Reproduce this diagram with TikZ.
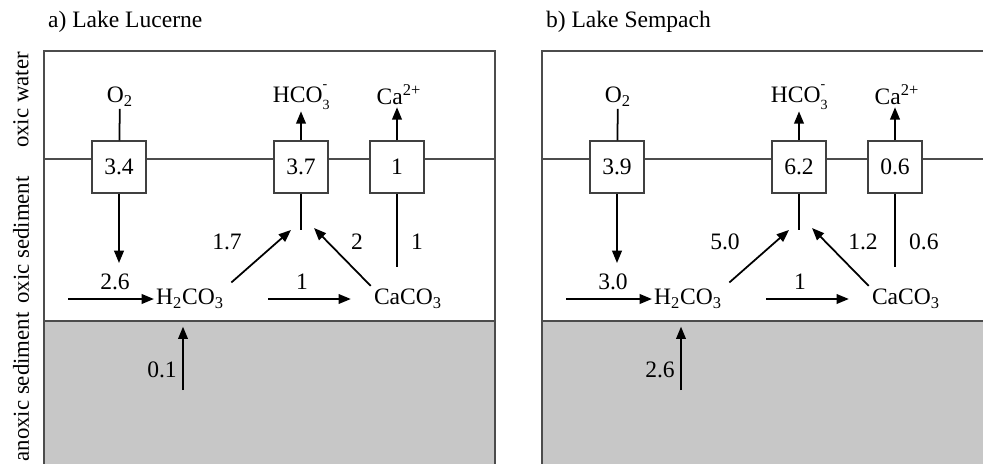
\documentclass[tikz,border=0pt]{standalone}
\usepackage{fontspec}
\setmainfont{Liberation Serif}
\usetikzlibrary{arrows.meta,positioning,calc}

\begin{document}
\begin{tikzpicture}[
  x=0.02cm, y=-0.02cm,
  every node/.style={font=\fontsize{13.4}{15}\selectfont, inner sep=1pt},
  zone/.style={rotate=90, font=\fontsize{13}{15}\selectfont},
  layer/.style={draw=black!70, line width=0.6pt},
  fluxbox/.style={draw=black!75, fill=white, line width=0.6pt,
                  minimum width=1.08cm, minimum height=1.04cm},
  flux/.style={line width=1pt},
  arr/.style={flux, -{Triangle[length=7pt, width=5.5pt]}}
]
  \clip (0,0) rectangle (983,463);

  % zone labels
  \node[zone] (zw) at (21,100) {oxic water};
  \node[zone] (zs) at (21,240) {oxic sediment};
  \node[zone] (za) at (21,387) {anoxic sediment};

  \foreach \dx/\pfx/\lake/\vo/\vh/\vc/\vin/\vl/\vr/\vrx/\vca/\vup in {
      0/lu/{a) Lake Lucerne}/3.4/3.7/1/2.6/1.7/2/357/1/0.1,
      498/se/{b) Lake Sempach}/3.9/6.2/0.6/3.0/5.0/1.2/365/0.6/2.6}
  {
  \begin{scope}[xshift=\dx*0.02cm, name prefix=\pfx-]
    % layers
    \fill[black!22] (44,321) rectangle (495,480);
    \draw[layer] (44,51) rectangle (495,480);
    \draw[layer] (44,159) -- (495,159);
    \draw[layer] (44,321) -- (495,321);
    \node[anchor=west] (title) at (46,22) {\lake};

    % fluxes across the interface
    \node[fluxbox] (bo) at (119,167) {\vo};
    \node[fluxbox] (bh) at (301,167) {\vh};
    \node[fluxbox] (bc) at (397,167) {\vc};
    \node (o2)  at (120,97) {O\textsubscript{2}};
    \node (hco) at (300,97) {HCO\rlap{\raisebox{-0.6ex}{\footnotesize 3}}\raisebox{1.3ex}{\footnotesize -}\hspace{2pt}};
    \node (ca)  at (399,95) {Ca\textsuperscript{2+}};

    % species in the oxic sediment
    \node (h2) at (190,299) {H\textsubscript{2}CO\textsubscript{3}};
    \node (cc) at (408,299) {CaCO\textsubscript{3}};

    \coordinate (od)  at (119,263);
    \coordinate (mid) at (301,230);
    \coordinate (cb)  at (397,267);
    \coordinate (tl)  at (291,230);
    \coordinate (tr)  at (314,228);
    \coordinate (src) at (68,299);
    \coordinate (lo)  at (183,390);

    \draw[flux] (o2) -- (bo);
    \draw[arr]  (bo) -- (od);
    \draw[arr]  (bh) -- (bh |- hco.south);
    \draw[arr]  (bc) -- (bc |- ca.south);
    \draw[flux] (bh) -- (mid);
    \draw[flux] (bc) -- (cb);
    \draw[arr, shorten <=4pt] (h2.north east) -- (tl);
    \draw[arr, shorten <=1pt] (cc.north west) -- (tr);
    \draw[arr] (src) -- (h2.west);
    \draw[arr, shorten <=24pt, shorten >=12pt] (h2.east) -- (cc.west);
    \draw[arr, shorten >=9pt] (lo) -- (lo |- h2.south);

    % flux values
    \node (nin) at (115,282) {\vin};
    \node (nl)  at (227,242) {\vl};
    \node (nm)  at (302,282) {1};
    \node (nr)  at (\vrx,242) {\vr};
    \node[anchor=west] (nca) at (409,242) {\vca};
    \node (nup) at (162,370) {\vup};
  \end{scope}
  }
\end{tikzpicture}
\end{document}
